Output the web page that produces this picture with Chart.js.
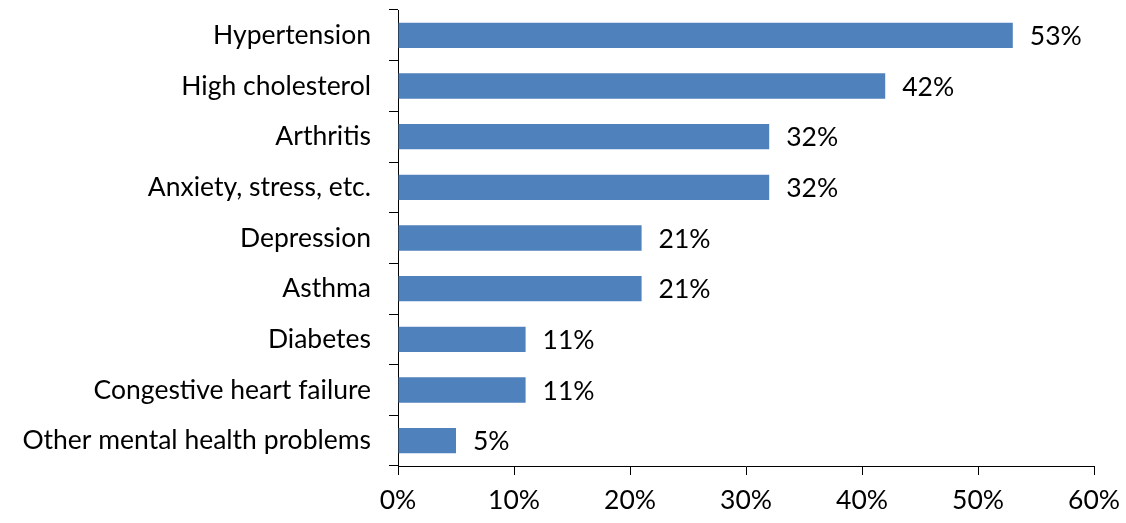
<!DOCTYPE html>
<html><head><meta charset="utf-8">
<script src="https://cdn.jsdelivr.net/npm/chart.js@4"></script>
<style>html,body{margin:0;padding:0;background:#fff}#wrap{width:1126px;height:523px}</style>
</head><body><div id="wrap"><canvas id="c"></canvas></div>
<script>
const categories = ["Hypertension","High cholesterol","Arthritis","Anxiety, stress, etc.","Depression","Asthma","Diabetes","Congestive heart failure","Other mental health problems"];
const values = [53,42,32,32,21,21,11,11,5];
const xTicks = [0,10,20,30,40,50,60];

const FONT = "Lato, 'Open Sans', sans-serif";
const FS = 26.5;
const labelPlugin = {
  id:'vals',
  afterDatasetsDraw(chart){
    const ctx = chart.ctx;
    const meta = chart.getDatasetMeta(0);
    ctx.save();
    ctx.font = FS + "px " + FONT;
    ctx.fillStyle = "#000";
    ctx.textBaseline = "middle";
    ctx.textAlign = "left";
    meta.data.forEach((bar,i)=>{
      ctx.fillText(values[i] + "%", bar.x + 17, bar.y + 1);
    });
    ctx.restore();
  }
};

new Chart(document.getElementById('c'), {
  type:'bar',
  data:{labels:categories, datasets:[{data:values, backgroundColor:'#4F81BD', categoryPercentage:1, barPercentage:0.5}]},
  options:{
    indexAxis:'y', responsive:true, maintainAspectRatio:false, animation:false,
    layout:{padding:{top:10,right:32,left:0,bottom:0}},
    plugins:{legend:{display:false}, tooltip:{enabled:false}},
    scales:{
      x:{min:0,max:60,
        afterBuildTicks(s){ s.ticks = xTicks.map(v=>({value:v})); },
        afterFit(s){ s.height = 57; s.paddingLeft = 0; s.paddingRight = 0; },
        grid:{drawOnChartArea:false, drawTicks:true, tickLength:9, color:'#000'},
        border:{color:'#000', width:1},
        ticks:{color:'#000', font:{family:FONT,size:FS}, padding:10, callback:v=>v+'%', maxRotation:0}
      },
      y:{
        afterFit(s){ s.width = 398; s.paddingTop = 0; s.paddingBottom = 0; },
        grid:{offset:true, drawOnChartArea:false, drawTicks:true, tickLength:9, color:'#000'},
        border:{color:'#000', width:1},
        ticks:{color:'#000', font:{family:FONT,size:FS}, padding:18}
      }
    }
  },
  plugins:[labelPlugin]
});
</script></body></html>
